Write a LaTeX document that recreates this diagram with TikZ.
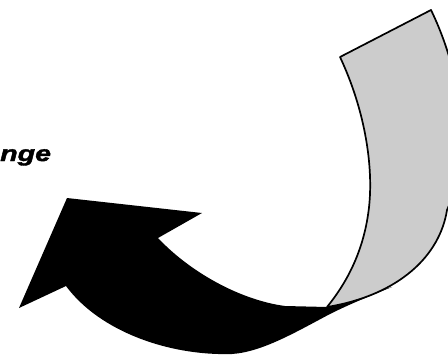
\documentclass[tikz,border=0pt]{standalone}
\usepackage{fontspec}
\usepackage{graphicx}
\setmainfont{Liberation Sans}
\newfontfamily\wordfont{Liberation Sans}[UprightFont=* Bold Italic, FakeBold=1.6]
\tikzset{
  frontside/.style={fill=black},
  backside/.style={fill=gray!40, draw=black, line width=1.7pt, line join=round},
  label/.style={font=\wordfont\fontsize{22}{26}\selectfont, inner sep=0pt, anchor=base west}
}
\begin{document}
\begin{tikzpicture}[x=1pt,y=-1pt]
\useasboundingbox (0,0) rectangle (448,356);
\clip (0,0) rectangle (448,356);
% black front of the ribbon with the arrow head
\fill[frontside] (327,307) -- (285,306) .. controls (240,300) and (190,272) .. (158,238)
  -- (202,213) -- (67,198) -- (19,308) -- (66,286)
  .. controls (100,332) and (170,356) .. (232,354)
  .. controls (262,352) and (296,332) .. (330,314)
  .. controls (350,304) and (372,295) .. (392,287) -- cycle;
% grey back of the ribbon
\filldraw[backside] (340,57) -- (431,10)
  .. controls (465,80) and (470,160) .. (447,210)
  .. controls (440,255) and (400,295) .. (327,307)
  .. controls (345,285) and (362,255) .. (368,215)
  .. controls (375,170) and (365,110) .. (340,57) -- cycle;
\node[label] (word) at (0,161) {\scalebox{1.3}[1]{nge}};
\end{tikzpicture}
\end{document}
